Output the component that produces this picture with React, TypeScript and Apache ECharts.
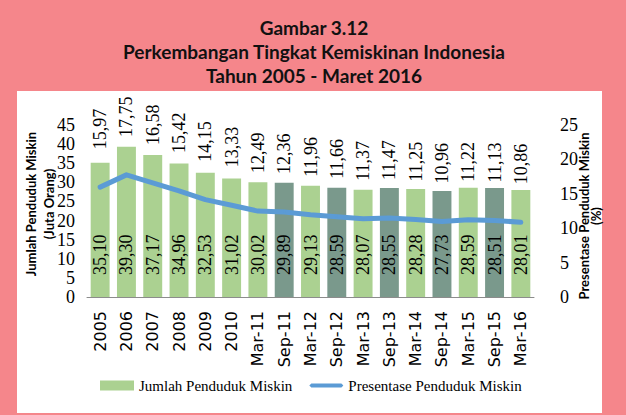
import React, { useEffect, useRef } from "react";
import * as echarts from "echarts";

const categories = ["2005", "2006", "2007", "2008", "2009", "2010", "Mar-11", "Sep-11", "Mar-12", "Sep-12", "Mar-13", "Sep-13", "Mar-14", "Sep-14", "Mar-15", "Sep-15", "Mar-16"];
const jumlahPenduduk = [35.10, 39.30, 37.17, 34.96, 32.53, 31.02, 30.02, 29.89, 29.13, 28.59, 28.07, 28.55, 28.28, 27.73, 28.59, 28.51, 28.01];
const persentase = [15.97, 17.75, 16.58, 15.42, 14.15, 13.33, 12.49, 12.36, 11.96, 11.66, 11.37, 11.47, 11.25, 10.96, 11.22, 11.13, 10.86];
const titleLines = ["Gambar 3.12", "Perkembangan Tingkat Kemiskinan Indonesia", "Tahun 2005 - Maret 2016"];
const seriesNames = ["Jumlah Penduduk Miskin", "Presentase Penduduk Miskin"];
const leftAxisTitle = ["Jumlah Penduduk Miskin", "(Juta Orang)"];
const rightAxisTitle = ["Presentase Penduduk Miskin", "(%)"];

const PINK = "#F5868B";
const LIGHT = "#ABD191";
const DARK = "#7A998C";
const BLUE = "#5B9BD5";

const fmt = (v: number) => v.toFixed(2).replace(".", ",");

export default function App() {
  const ref = useRef<HTMLDivElement>(null);
  useEffect(() => {
    if (!ref.current) return;
    const chart = echarts.init(ref.current, null, { renderer: "svg" });
    chart.setOption({
      animation: false,
      backgroundColor: PINK,
      title: {
        text: titleLines.join("\n"),
        left: 309,
        top: 10,
        textAlign: "center",
        textStyle: { fontFamily: "Lato", fontWeight: "bold", fontSize: 19, lineHeight: 24, color: "#111" },
      },
      graphic: [
        { type: "rect", z: -5, shape: { x: 17, y: 91, width: 585, height: 322 }, style: { fill: "#fff" } },
        {
          type: "text", z: 10, x: 40, y: 204, rotation: Math.PI / 2,
          style: { text: leftAxisTitle.join("\n"), align: "center", verticalAlign: "middle", fontFamily: "Lato", fontWeight: "bold", fontSize: 13, lineHeight: 18, fill: "#000" },
        },
        {
          type: "text", z: 10, x: 590, y: 216, rotation: Math.PI / 2,
          style: { text: rightAxisTitle.join("\n"), align: "center", verticalAlign: "middle", fontFamily: "Lato", fontWeight: "bold", fontSize: 13, lineHeight: 12, fill: "#000" },
        },
      ],
      legend: {
        left: 95,
        top: 373,
        itemWidth: 34,
        itemHeight: 10,
        itemGap: 17,
        textStyle: { fontFamily: "Liberation Serif", fontSize: 15, color: "#000" },
        data: [
          { name: seriesNames[0], icon: "rect", itemStyle: { color: LIGHT } },
          { name: seriesNames[1], icon: "path://M2,0 L33,0 L35,2 L33,4 L2,4 L0,2 Z" },
        ],
      },
      grid: { left: 87, right: 92, top: 125, bottom: 118 },
      xAxis: {
        type: "category",
        data: categories,
        axisLine: { lineStyle: { color: "#8C8C8C" } },
        axisTick: { length: 5, lineStyle: { color: "#8C8C8C" } },
        axisLabel: { interval: 0, rotate: 90, margin: 14, fontFamily: "DejaVu Sans", fontSize: 16, color: "#000" },
      },
      yAxis: [
        {
          type: "value", min: 0, max: 45, interval: 5,
          splitLine: { show: false }, axisLine: { show: false }, axisTick: { show: false },
          axisLabel: { margin: 12, fontFamily: "Liberation Serif", fontSize: 18, color: "#000" },
        },
        {
          type: "value", min: 0, max: 25, interval: 5,
          splitLine: { show: false }, axisLine: { show: false }, axisTick: { show: false },
          axisLabel: { margin: 26, fontFamily: "Liberation Serif", fontSize: 18, color: "#000" },
        },
      ],
      series: [
        {
          name: seriesNames[0],
          type: "bar",
          barCategoryGap: "28%",
          data: jumlahPenduduk.map((v, i) => ({
            value: v,
            itemStyle: { color: categories[i].startsWith("Sep") ? DARK : LIGHT },
          })),
          label: {
            show: true,
            position: "insideBottom",
            distance: 22,
            rotate: 90,
            align: "left",
            verticalAlign: "middle",
            formatter: (p: any) => fmt(p.value),
            fontFamily: "Liberation Serif",
            fontSize: 18,
            color: "#000",
          },
        },
        {
          name: seriesNames[1],
          type: "line",
          yAxisIndex: 1,
          data: persentase,
          color: BLUE,
          symbol: "circle",
          symbolSize: 2,
          showSymbol: true,
          itemStyle: { color: BLUE },
          lineStyle: { width: 5, color: BLUE, cap: "round", join: "round" },
          z: 5,
          label: {
            show: true,
            position: "top",
            distance: 37,
            rotate: 90,
            align: "left",
            verticalAlign: "middle",
            formatter: (p: any) => fmt(p.value),
            fontFamily: "Liberation Serif",
            fontSize: 18,
            color: "#000",
          },
        },
      ],
    });
    return () => chart.dispose();
  }, []);
  return <div ref={ref} style={{ position: "fixed", left: 0, top: 0, width: 626, height: 415 }} />;
}
